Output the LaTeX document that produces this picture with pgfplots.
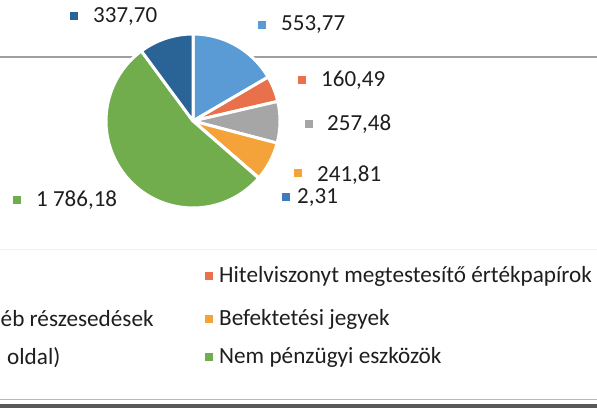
\documentclass[border=0pt]{standalone}
\usepackage{pgfplots}
\usepackage{pgfplotstable}
\pgfplotsset{compat=1.18}
\usepackage{fontspec}
\setmainfont{Carlito}

\definecolor{cA}{HTML}{5B9BD5}
\definecolor{cB}{HTML}{E8704A}
\definecolor{cC}{HTML}{A6A6A6}
\definecolor{cD}{HTML}{F3A33A}
\definecolor{cE}{HTML}{3D7CC0}
\definecolor{cF}{HTML}{72AD4D}
\definecolor{cG}{HTML}{2A6496}
\definecolor{txt}{HTML}{1E1E1E}

% slices clockwise from 12 o'clock; marker centre (mx,my) and label start (tx,ty)
\pgfplotstableread{
value   color mx  my  tx  ty
553.77  cA    262 394 281 394
160.49  cB    302 339 321 339
257.48  cC    309 295 327 295
241.81  cD    298 246 317 244
2.31    cE    286 222 297 221
1786.18 cF    17  219 36  219
337.70  cG    74  403 93  402
}\piedata

\begin{document}
\begin{tikzpicture}
\begin{axis}[
    width=597pt, height=419pt, scale only axis,
    xmin=0, xmax=597, ymin=0, ymax=419,
    hide axis, clip=true,
    /pgf/number format/.cd, fixed, fixed zerofill, precision=2, use comma,
    1000 sep={\ }, assume math mode=true,
  ]
  % frame lines of the scanned page
  \draw[gray!75, line width=1.3pt] (axis cs:0,362) -- (axis cs:597,362);
  \draw[gray!10, line width=1pt] (axis cs:0,169) -- (axis cs:597,169);
  \draw[gray!55, line width=0.8pt] (axis cs:0,20) -- (axis cs:597,20);
  \draw[black!65, line width=3.5pt] (axis cs:0,13) -- (axis cs:597,13);

  \pgfplotsextra{%
    \pgfplotstablegetrowsof{\piedata}%
    \pgfmathtruncatemacro\nrows{\pgfplotsretval-1}%
    \gdef\total{0}%
    \foreach \i in {0,...,\nrows}{%
      \pgfplotstablegetelem{\i}{value}\of\piedata
      \pgfmathsetmacro\tmp{\total+\pgfplotsretval}%
      \xdef\total{\tmp}%
    }%
    \gdef\cumsum{0}%
    \foreach \i in {0,...,\nrows}{%
      \pgfplotstablegetelem{\i}{value}\of\piedata \let\val\pgfplotsretval
      \pgfplotstablegetelem{\i}{color}\of\piedata \let\col\pgfplotsretval
      \pgfplotstablegetelem{\i}{mx}\of\piedata \let\mx\pgfplotsretval
      \pgfplotstablegetelem{\i}{my}\of\piedata \let\my\pgfplotsretval
      \pgfplotstablegetelem{\i}{tx}\of\piedata \let\tx\pgfplotsretval
      \pgfplotstablegetelem{\i}{ty}\of\piedata \let\ty\pgfplotsretval
      \pgfmathsetmacro\aA{90-\cumsum/\total*360}%
      \pgfmathsetmacro\newcum{\cumsum+\val}%
      \pgfmathsetmacro\aB{90-\newcum/\total*360}%
      \xdef\cumsum{\newcum}%
      \filldraw[fill=\col, draw=white, line width=3pt, line join=round]
        (axis cs:193,298) -- ++(\aA:87pt) arc[start angle=\aA, end angle=\aB, radius=87pt] -- cycle;
      \fill[fill=\col] (axis cs:\mx,\my) ++(-3.8pt,-3.8pt) rectangle ++(7.6pt,7.6pt);
      \node[anchor=west, inner sep=0pt, text=txt, font=\fontsize{23}{27}\selectfont]
        at (axis cs:\tx,\ty) {\pgfmathprintnumber{\val}};
    }%
  }

  % legend (cropped in the reference)
  \fill[cB] (axis cs:205,139.2) rectangle ++(7.6pt,7.6pt);
  \fill[cD] (axis cs:205,96.2) rectangle ++(7.6pt,7.6pt);
  \fill[cF] (axis cs:205,58.2) rectangle ++(7.6pt,7.6pt);
  \begin{scope}[every node/.style={inner sep=0pt, text=txt, font=\fontsize{23.2}{27}\selectfont}]
    \node[anchor=west] at (axis cs:219,143) {Hitelviszonyt megtestesítő értékpapírok};
    \node[anchor=west] at (axis cs:219,100) {Befektetési jegyek};
    \node[anchor=west] at (axis cs:219,62) {Nem pénzügyi eszközök};
    \node[anchor=west] at (axis cs:0.5,100) {éb részesedések};
    \node[anchor=west] at (axis cs:7,61) {oldal)};
  \end{scope}
\end{axis}
\pgfresetboundingbox
\path (0,0) rectangle (597pt,419pt);
\end{tikzpicture}
\end{document}
